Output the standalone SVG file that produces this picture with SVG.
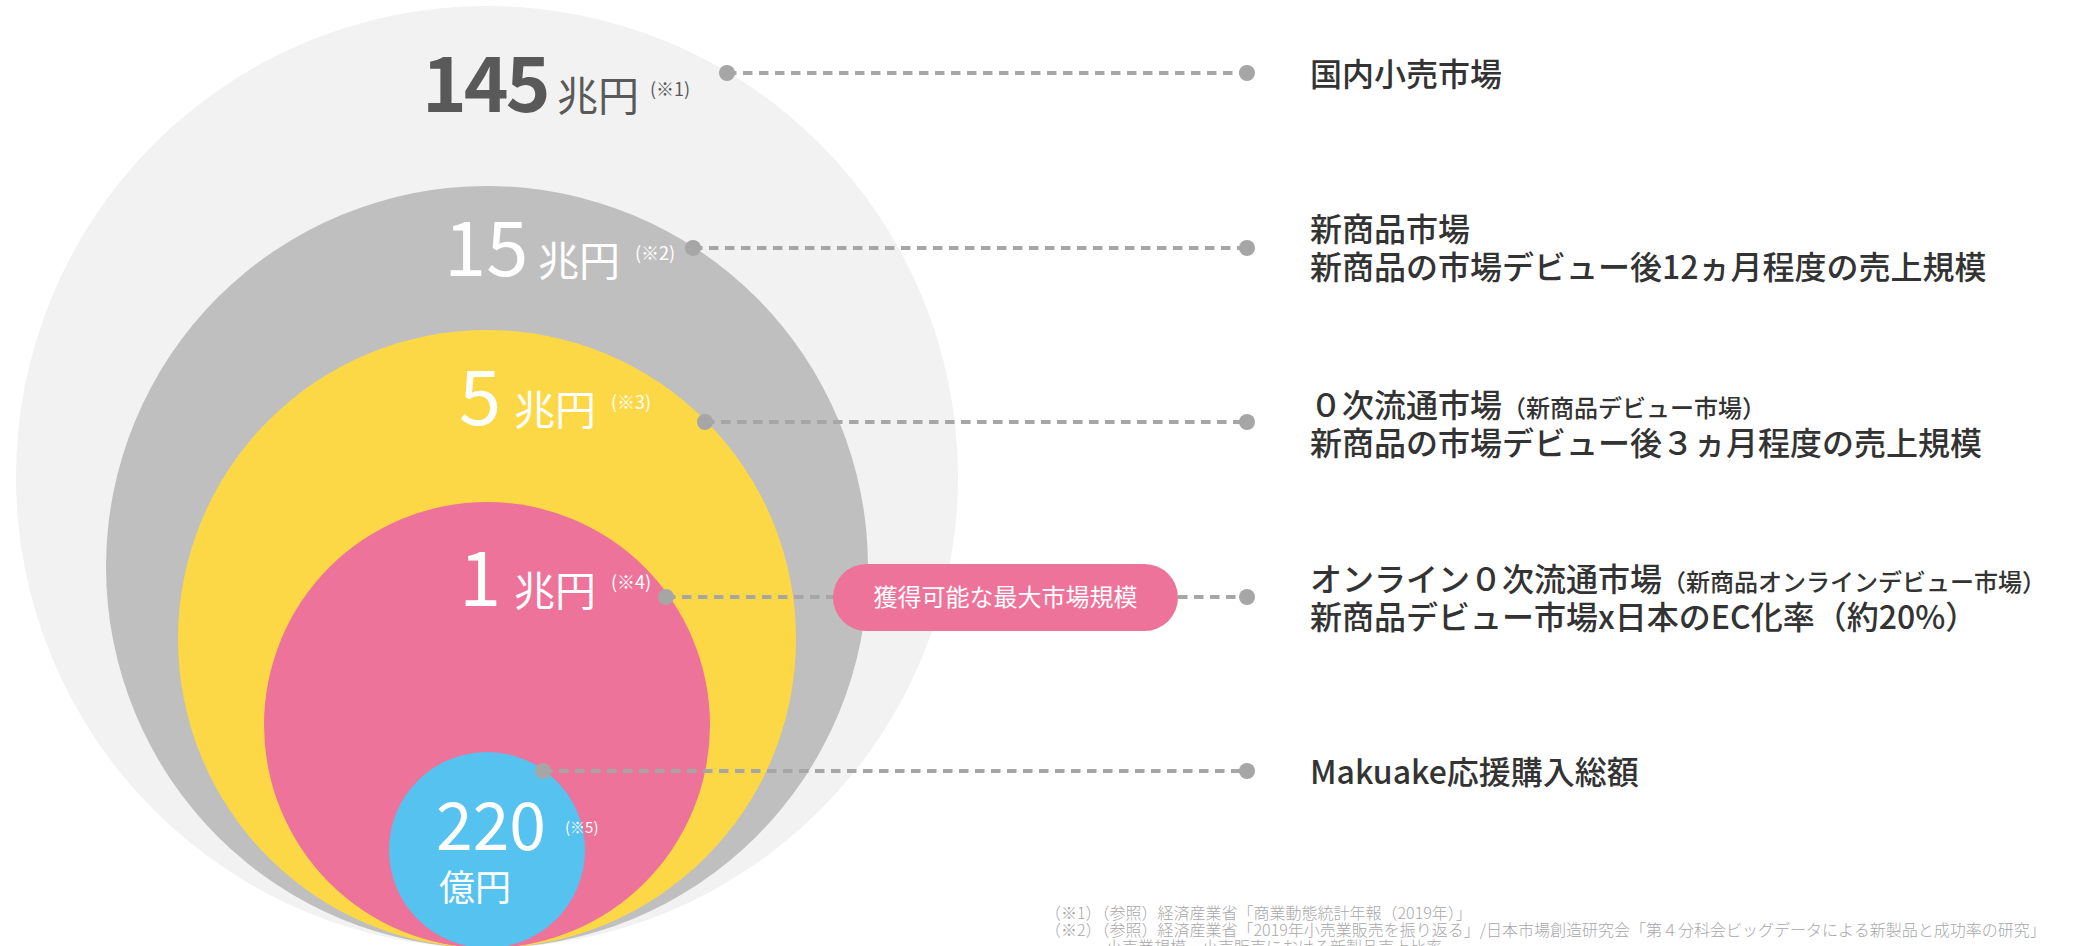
<svg xmlns="http://www.w3.org/2000/svg" width="2090" height="946" viewBox="0 0 2090 946">
<style>
text{font-family:"Noto Sans CJK JP","Noto Sans",sans-serif}
.num{font-size:76px;fill:#fff}
.unit{font-size:41px;fill:#fff}
.note{font-size:18px;fill:#fff}
.lbl{font-size:32px;fill:#333;font-weight:500}
.sm{font-size:24px}
.foot{font-size:16px;fill:#a8a8a8;font-weight:300}
.dash{stroke:#a6a6a6;stroke-width:4;stroke-dasharray:9.5 6.5;fill:none}
.dot{fill:#a6a6a6}
</style>
<rect width="2090" height="946" fill="#fff"/>
<g id="circle-retail"><circle cx="487" cy="477" r="471" fill="#f2f2f2"/></g>
<g id="circle-new"><circle cx="487" cy="567" r="381" fill="#bfbfbf"/></g>
<g id="circle-zero"><circle cx="487" cy="639" r="309" fill="#fdd846"/></g>
<g id="circle-online"><circle cx="487" cy="725" r="223" fill="#ee739a"/></g>
<g id="circle-makuake"><circle cx="487" cy="850" r="98" fill="#55c2ef"/></g>

<g id="label-145">
<text x="422" y="112" class="num" style="fill:#595959;font-weight:700;font-size:76px;letter-spacing:-3px">145</text>
<text x="557" y="111" class="unit" style="fill:#595959">兆円</text>
<text x="650" y="96" class="note" style="fill:#595959">(※1)</text>
</g>
<g id="label-15">
<text x="444" y="276" class="num">15</text>
<text x="538" y="276" class="unit">兆円</text>
<text x="635" y="260" class="note">(※2)</text>
</g>
<g id="label-5">
<text x="459" y="425" class="num">5</text>
<text x="514" y="425" class="unit">兆円</text>
<text x="611" y="409" class="note">(※3)</text>
</g>
<g id="label-1">
<text x="459" y="606" class="num">1</text>
<text x="514" y="606" class="unit">兆円</text>
<text x="611" y="589" class="note">(※4)</text>
</g>
<g id="label-220">
<text x="436" y="850" class="num" style="font-size:66px">220</text>
<text x="565" y="833" class="note" style="font-size:15px">(※5)</text>
<text x="439" y="901" class="unit" style="font-size:36px">億円</text>
</g>

<g id="connectors">
<line x1="727" y1="73" x2="1247" y2="73" class="dash"/>
<line x1="693" y1="248" x2="1247" y2="248" class="dash"/>
<line x1="705" y1="422" x2="1247" y2="422" class="dash"/>
<line x1="666" y1="597" x2="833" y2="597" class="dash"/>
<line x1="1178" y1="597" x2="1247" y2="597" class="dash"/>
<line x1="543" y1="771" x2="1247" y2="771" class="dash"/>
<circle cx="727" cy="73" r="8" class="dot"/><circle cx="1247" cy="73" r="8" class="dot"/>
<circle cx="693" cy="248" r="8" class="dot"/><circle cx="1247" cy="248" r="8" class="dot"/>
<circle cx="705" cy="422" r="8" class="dot"/><circle cx="1247" cy="422" r="8" class="dot"/>
<circle cx="666" cy="597" r="8" class="dot"/><circle cx="1247" cy="597" r="8" class="dot"/>
<circle cx="543" cy="771" r="8" class="dot"/><circle cx="1247" cy="771" r="8" class="dot"/>
</g>

<g id="pill">
<rect x="833" y="564" width="345" height="67" rx="33.5" fill="#ee739a"/>
<text x="1005.5" y="606" text-anchor="middle" style="font-size:24px;fill:#fff">獲得可能な最大市場規模</text>
</g>

<g id="desc-retail"><text x="1310" y="86" class="lbl">国内小売市場</text></g>
<g id="desc-new">
<text x="1310" y="241" class="lbl">新商品市場</text>
<text x="1310" y="279" class="lbl">新商品の市場デビュー後12ヵ月程度の売上規模</text>
</g>
<g id="desc-zero">
<text x="1310" y="417" class="lbl">０次流通市場<tspan class="sm">（新商品デビュー市場）</tspan></text>
<text x="1310" y="455" class="lbl">新商品の市場デビュー後３ヵ月程度の売上規模</text>
</g>
<g id="desc-online">
<text x="1310" y="591" class="lbl">オンライン０次流通市場<tspan class="sm">（新商品オンラインデビュー市場）</tspan></text>
<text x="1310" y="629" class="lbl">新商品デビュー市場x日本のEC化率（約20%）</text>
</g>
<g id="desc-makuake"><text x="1310" y="784" class="lbl">Makuake応援購入総額</text></g>

<g id="footnotes">
<text x="1045" y="919" class="foot">（※1）（参照）経済産業省「商業動態統計年報（2019年）」</text>
<text x="1045" y="936" class="foot">（※2）（参照）経済産業省「2019年小売業販売を振り返る」/日本市場創造研究会「第４分科会ビッグデータによる新製品と成功率の研究」</text>
<text x="1106" y="953" class="foot">小売業規模、小売販売における新製品売上比率</text>
</g>
</svg>
